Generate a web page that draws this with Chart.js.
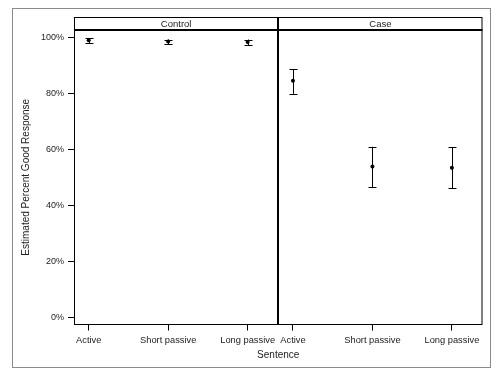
<!DOCTYPE html>
<html><head><meta charset="utf-8">
<script src="https://cdn.jsdelivr.net/npm/chart.js@4"></script>
<style>html,body{margin:0;padding:0;background:#fff}canvas{display:block}</style>
</head><body>
<canvas id="c" width="500" height="372"></canvas>
<script>
const panels = ['Control', 'Case'];
const categories = ['Active', 'Short passive', 'Long passive'];
const controlEstimate = [99.0, 98.6, 98.4];
const controlLower = [98.0, 97.6, 97.3];
const controlUpper = [99.7, 99.3, 99.3];
const caseEstimate = [84.6, 53.9, 53.5];
const caseLower = [79.9, 46.5, 46.1];
const caseUpper = [88.7, 61.0, 60.8];
const yTicks = [0, 20, 40, 60, 80, 100];

const PANEL_SPAN = 2.57;
const X_MIN = -0.185;
const X_MAX = X_MIN + PANEL_SPAN * panels.length;
const FONT = "'Liberation Sans', Arial, sans-serif";
const TXT = '#222';

const estimates = [controlEstimate, caseEstimate];
const lowers = [controlLower, caseLower];
const uppers = [controlUpper, caseUpper];

const points = [];
const xTickVals = [];
const xTickLabels = {};
panels.forEach((p, pi) => {
  categories.forEach((c, ci) => {
    const xv = pi * PANEL_SPAN + ci;
    xTickVals.push(xv);
    xTickLabels[xv.toFixed(3)] = c;
    points.push({x: xv, y: estimates[pi][ci], lo: lowers[pi][ci], hi: uppers[pi][ci]});
  });
});

const errorBars = {
  id: 'errorBars',
  beforeDatasetsDraw(chart) {
    const {ctx, scales: {x, y}} = chart;
    ctx.save();
    ctx.strokeStyle = '#000';
    ctx.lineWidth = 1;
    points.forEach(pt => {
      const px = Math.round(x.getPixelForValue(pt.x)) + 0.5;
      const yl = y.getPixelForValue(pt.lo);
      const yh = y.getPixelForValue(pt.hi);
      ctx.beginPath();
      ctx.moveTo(px, yl); ctx.lineTo(px, yh);
      ctx.moveTo(px - 4, Math.round(yl) + 0.5); ctx.lineTo(px + 4, Math.round(yl) + 0.5);
      ctx.moveTo(px - 4, Math.round(yh) + 0.5); ctx.lineTo(px + 4, Math.round(yh) + 0.5);
      ctx.stroke();
    });
    ctx.restore();
  }
};

const frame = {
  id: 'frame',
  afterDraw(chart) {
    const {ctx, chartArea: a, scales: {x}} = chart;
    ctx.save();
    ctx.strokeStyle = '#8a8a8a';
    ctx.lineWidth = 1;
    ctx.strokeRect(12.5, 8.5, 478, 359);
    const stripTop = 17;
    ctx.strokeStyle = '#000';
    ctx.strokeRect(a.left + 0.5, stripTop + 0.5, a.right - a.left - 1, a.bottom - stripTop - 0.5);
    ctx.fillStyle = '#000';
    ctx.fillRect(a.left, a.top - 1, a.right - a.left, 2);
    ctx.font = '9.5px ' + FONT;
    ctx.textAlign = 'center';
    ctx.textBaseline = 'middle';
    panels.forEach((p, pi) => {
      const l = pi === 0 ? a.left : x.getPixelForValue(X_MIN + pi * PANEL_SPAN);
      const r = pi === panels.length - 1 ? a.right : x.getPixelForValue(X_MIN + (pi + 1) * PANEL_SPAN);
      ctx.fillStyle = TXT;
      ctx.fillText(p, (l + r) / 2, (stripTop + a.top) / 2 + 0.5);
      if (pi > 0) {
        ctx.fillStyle = '#000';
        ctx.fillRect(Math.round(l) - 1, stripTop, 2, a.bottom - stripTop);
      }
    });
    ctx.restore();
  }
};

new Chart(document.getElementById('c'), {
  type: 'scatter',
  data: {
    datasets: [{
      data: points,
      pointRadius: 2,
      pointHoverRadius: 2,
      backgroundColor: '#000',
      borderColor: '#000',
      borderWidth: 0
    }]
  },
  options: {
    responsive: false,
    animation: false,
    events: [],
    layout: {padding: {top: 30, right: 17.5, bottom: 0, left: 0}},
    plugins: {legend: {display: false}, tooltip: {enabled: false}},
    scales: {
      x: {
        type: 'linear',
        min: X_MIN,
        max: X_MAX,
        afterBuildTicks: s => { s.ticks = xTickVals.map(v => ({value: v})); },
        afterFit: s => { s.height = 47.5; },
        grid: {drawOnChartArea: false, drawTicks: true, tickLength: 6, tickColor: '#000', lineWidth: 1},
        border: {display: false},
        ticks: {
          autoSkip: false, maxRotation: 0, padding: 4, color: TXT,
          font: {family: FONT, size: 9.3},
          callback: v => xTickLabels[Number(v).toFixed(3)] || ''
        },
        title: {display: true, text: 'Sentence', color: TXT, font: {family: FONT, size: 10}, padding: {top: 0, bottom: 11}}
      },
      y: {
        min: -2.5,
        max: 102.7,
        afterBuildTicks: s => { s.ticks = yTicks.map(v => ({value: v})); },
        afterFit: s => { s.width = 74; },
        grid: {drawOnChartArea: false, drawTicks: true, tickLength: 6, tickColor: '#000', lineWidth: 1},
        border: {display: false},
        ticks: {padding: 4, color: TXT, font: {family: FONT, size: 9}, callback: v => v + '%'},
        title: {display: true, text: 'Estimated Percent Good Response', color: TXT, font: {family: FONT, size: 10}, padding: {top: 20, bottom: 0}}
      }
    }
  },
  plugins: [errorBars, frame]
});
</script>
</body></html>
